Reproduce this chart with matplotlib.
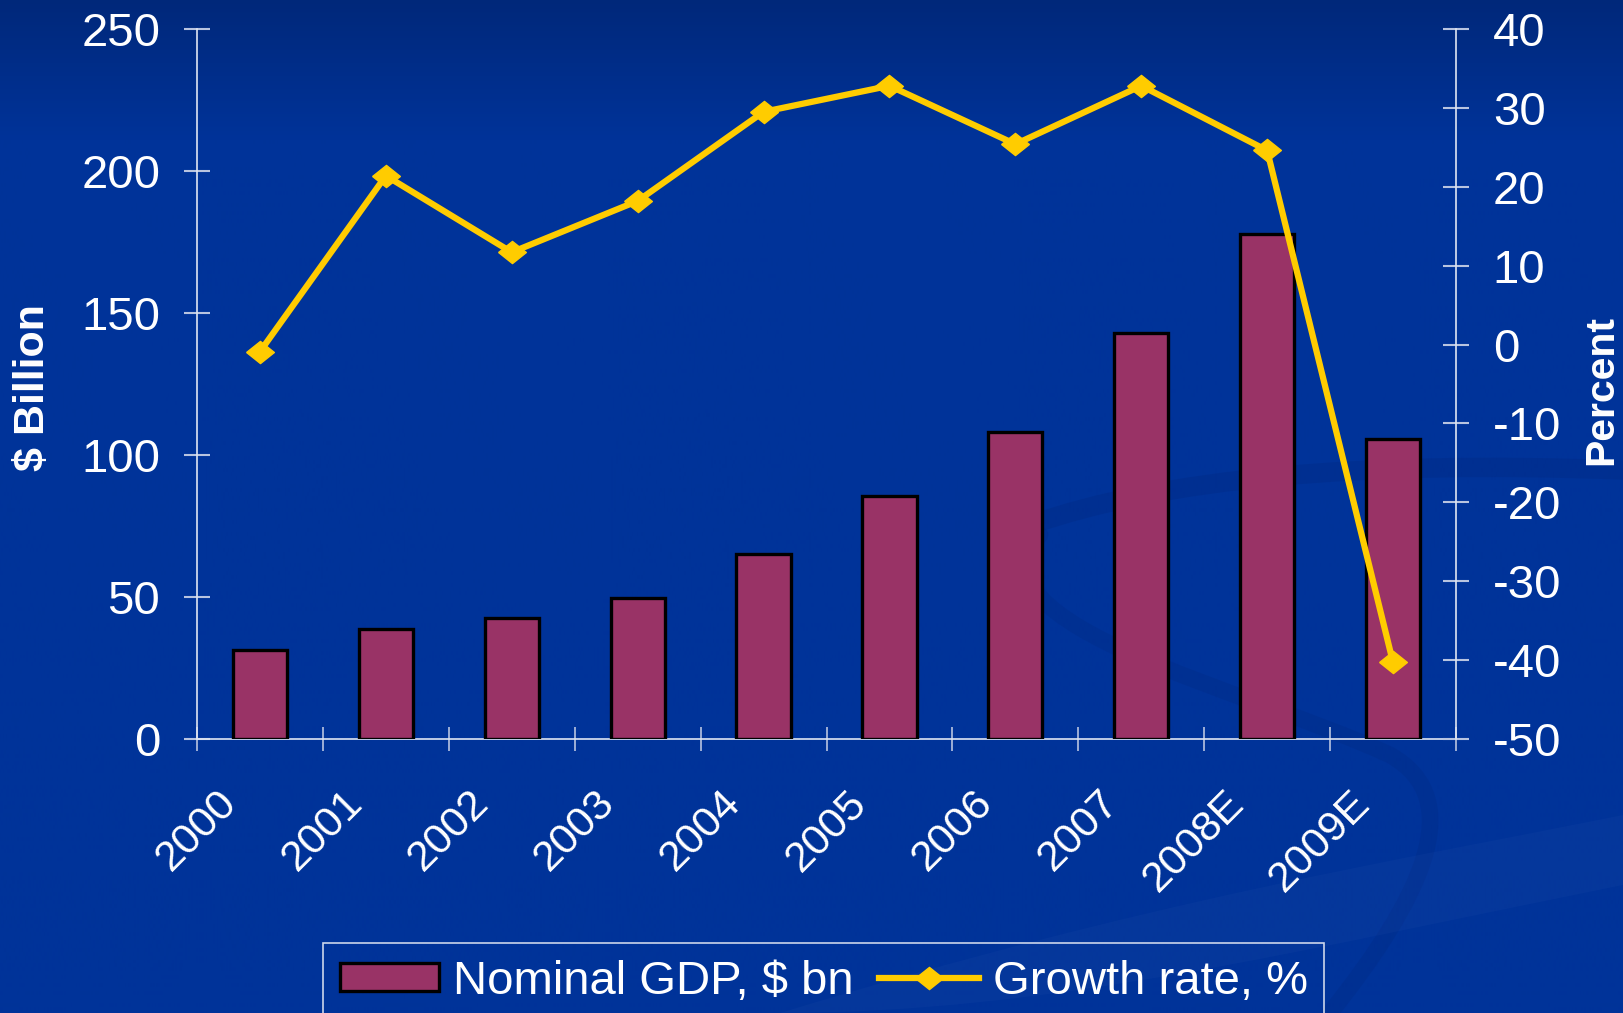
import numpy as np
import matplotlib
matplotlib.use('Agg')
import matplotlib.pyplot as plt
from matplotlib.path import Path
from matplotlib.patches import PathPatch, Patch
from matplotlib.lines import Line2D
from matplotlib.transforms import offset_copy

plt.rcParams['font.family'] = ['Liberation Sans', 'DejaVu Sans']
plt.rcParams['axes.unicode_minus'] = False

years = ['2000', '2001', '2002', '2003', '2004', '2005', '2006', '2007', '2008E', '2009E']
gdp_bn = [31.3, 38.6, 42.6, 49.6, 65.2, 85.6, 108.2, 142.9, 177.8, 105.7]
growth_pct = [-0.9, 21.4, 11.7, 18.2, 29.5, 32.8, 25.4, 32.8, 24.6, -40.3]

W, H = 1623, 1013
BAR = '#993366'
GOLD = '#FFCC00'
AXIS = '#dfe5f2'
TICK = '#b8c4e0'
FS = 34

# wide diamond marker
diamond = [(-1, 0), (0, 0.8), (1, 0), (0, -0.8), (-1, 0)]

fig = plt.figure(figsize=(W / 100, H / 100), dpi=100)


def px(x, y):
    return (x / W, 1 - y / H)


# slide background: dark band at top fading into the blue, plus soft swooshes
bg = fig.add_axes([0, 0, 1, 1], zorder=-10)
bg.axis('off')
rows = np.arange(H)
t = np.clip(rows / 140.0, 0, 1)[:, None]
top = np.array([0, 40, 122]) / 255
mid = np.array([0, 51, 153]) / 255
grad = (top * (1 - t) + mid * t)[:, None, :] * np.ones((1, 4, 1))
bg.imshow(grad, extent=[0, 1, 0, 1], aspect='auto', origin='upper')
bg.set_xlim(0, 1)
bg.set_ylim(0, 1)

C3, C4 = Path.CURVE3, Path.CURVE4
swoosh_top = Path([px(1030, 525), px(1230, 455), px(1623, 470)],
                  [Path.MOVETO, C3, C3])
bg.add_patch(PathPatch(swoosh_top, facecolor='none', edgecolor='#00287f',
                       lw=14, alpha=0.3, capstyle='round'))
swoosh_loop = Path([px(1040, 535), px(960, 625), px(1250, 690), px(1390, 755),
                    px(1470, 800), px(1420, 900), px(1330, 1013)],
                   [Path.MOVETO, C4, C4, C4, C4, C4, C4])
bg.add_patch(PathPatch(swoosh_loop, facecolor='none', edgecolor='#00287f',
                       lw=12, alpha=0.25, capstyle='round'))
light_band = Path([px(780, 1013), px(1150, 900), px(1400, 860), px(1623, 815),
                   px(1623, 885), px(1300, 950), px(1050, 1013), px(780, 1013)],
                  [Path.MOVETO, C4, C4, C4, Path.LINETO, C4, C4, C4])
bg.add_patch(PathPatch(light_band, facecolor='#2a55b0', edgecolor='none', alpha=0.12))

# chart area
ax = fig.add_axes([197 / W, 1 - 739 / H, (1456 - 197) / W, (739 - 29) / H])
ax.patch.set_alpha(0)
x = np.arange(len(years))
ax.bar(x, gdp_bn, width=0.43, color=BAR, edgecolor='black', linewidth=2.4, zorder=3)
ax.set_xlim(-0.5, len(years) - 0.5)
ax.set_ylim(0, 250)
ax.set_yticks(range(0, 251, 50))
ax.set_xticks(np.arange(-0.5, len(years), 1))
ax.set_xticklabels([])
ax.tick_params(axis='x', direction='inout', length=17, width=1.2, color=TICK)
ax.tick_params(axis='y', direction='inout', length=19, width=1.5, color=TICK,
               labelsize=FS, labelcolor='white', pad=17)

ax2 = ax.twinx()
ax2.plot(x, growth_pct, color=GOLD, lw=4.5, marker=diamond, ms=20, zorder=4)
ax2.set_ylim(-50, 40)
ax2.set_yticks(range(-50, 41, 10))
ax2.tick_params(axis='y', direction='inout', length=19, width=1.5, color=TICK,
                labelsize=FS, labelcolor='white', pad=17)

for a in (ax, ax2):
    a.spines['top'].set_visible(False)
    for s in a.spines.values():
        s.set_color(AXIS)
        s.set_linewidth(1.2)
ax.spines['right'].set_visible(False)
ax2.spines['left'].set_visible(False)
ax2.spines['bottom'].set_visible(False)

# rotated category labels sitting left of each bar
lab_tr = offset_copy(ax.get_xaxis_transform(), fig=fig, x=-43, y=-44, units='dots')
for i, lab in enumerate(years):
    ax.text(i, 0, lab, transform=lab_tr, rotation=45, ha='right', va='top',
            rotation_mode='anchor', fontsize=31, color='white')

fig.text(33 / W, 1 - 388 / H, '$ Billion', rotation=90, fontsize=31,
         fontweight='bold', color='white', ha='center', va='center')
fig.text(1601 / W, 1 - 390 / H, 'Percent', rotation=90, fontsize=29.5,
         fontweight='bold', color='white', ha='center', va='center')

handles = [Patch(facecolor=BAR, edgecolor='black', linewidth=2.4),
           Line2D([], [], color=GOLD, lw=4.5, marker=diamond, ms=20)]
leg = fig.legend(handles, ['Nominal GDP, $ bn', 'Growth rate, %'],
                 loc='upper left', bbox_to_anchor=px(323, 943), borderaxespad=0,
                 ncol=2, frameon=True, fancybox=False, edgecolor='white',
                 facecolor='none', fontsize=FS, labelcolor='white',
                 handlelength=2.1, handleheight=0.55, handletextpad=0.3,
                 columnspacing=0.55, borderpad=0.35)
leg.get_frame().set_linewidth(1.2)

fig.savefig('out.png', dpi=100)
